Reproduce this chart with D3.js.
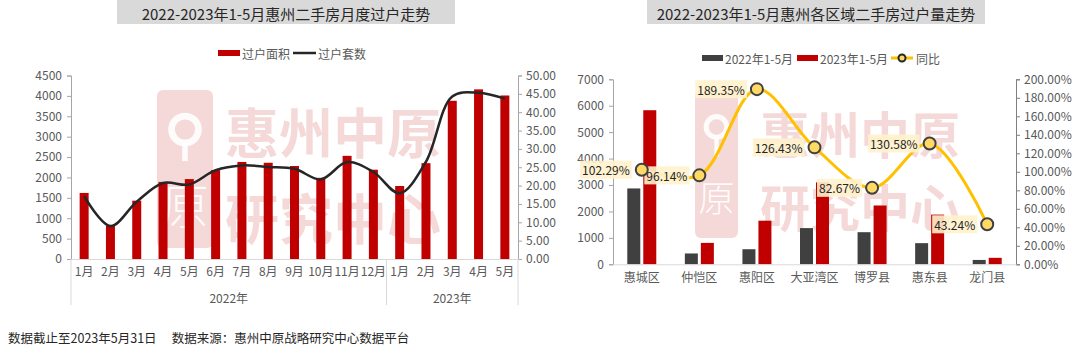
<!DOCTYPE html>
<html><head><meta charset="utf-8">
<script src="https://cdn.jsdelivr.net/npm/d3@7"></script>
<style>
body{margin:0;background:#fff;}
svg{display:block;font-family:"Noto Sans CJK SC","Noto Sans",sans-serif;}
</style>
</head><body>
<svg id="c" width="1080" height="353"></svg>
<script>
// ---------- data: left chart ----------
const leftTitle = "2022-2023年1-5月惠州二手房月度过户走势";
const months = ["1月","2月","3月","4月","5月","6月","7月","8月","9月","10月","11月","12月","1月","2月","3月","4月","5月"];
const yearLabels = ["2022年","2023年"];
const yearCounts = [12,5];
const transferArea = [1620,815,1430,1890,1960,2180,2380,2360,2280,1990,2530,2190,1790,2350,3880,4160,4010];
const transferCount = [17.1,9.0,15.6,20.7,20.3,24.2,25.5,25.1,24.6,21.7,26.4,23.7,17.9,26.5,44.3,45.3,43.7];
const leftTicks = [0,500,1000,1500,2000,2500,3000,3500,4000,4500];
const rightTicksL = [0,5,10,15,20,25,30,35,40,45,50];
const leftLegend = ["过户面积","过户套数"];

// ---------- data: right chart ----------
const rightTitle = "2022-2023年1-5月惠州各区域二手房过户量走势";
const districts = ["惠城区","仲恺区","惠阳区","大亚湾区","博罗县","惠东县","龙门县"];
const vol2022 = [2870,410,570,1370,1215,800,165];
const vol2023 = [5830,810,1650,3100,2225,1880,245];
const yoy = [102.29,96.14,189.35,126.43,82.67,130.58,43.24];
const rTicksLeft = [0,1000,2000,3000,4000,5000,6000,7000];
const rTicksRight = [0,20,40,60,80,100,120,140,160,180,200];
const rightLegend = ["2022年1-5月","2023年1-5月","同比"];

const footer = "数据截止至2023年5月31日\u3000 数据来源：惠州中原战略研究中心数据平台";

const RED = "#c00000", DARK = "#404040", YEL = "#ffc000", TXT = "#595959";
const svg = d3.select("#c");

function watermark(g, rx, ry, rw, rh, tx, ty1, ty2, fs) {
  const w = g.append("g").attr("opacity", 0.15);
  w.append("rect").attr("x", rx).attr("y", ry).attr("width", rw).attr("height", rh).attr("rx", 6).attr("fill", RED);
  // stylised white seal marks inside the logo block
  const cxm = rx + rw/2, r = rw*0.24, cy1 = ry + rh*0.25;
  g.append("circle").attr("cx", cxm).attr("cy", cy1).attr("r", r).attr("fill","none").attr("stroke","#fff").attr("stroke-width", rw*0.12).attr("opacity",0.9);
  g.append("line").attr("x1", cxm).attr("x2", cxm).attr("y1", cy1 + r).attr("y2", ry + rh*0.45).attr("stroke","#fff").attr("stroke-width", rw*0.1).attr("opacity",0.9);
  g.append("text").attr("x", cxm).attr("y", ry + rh*0.72).attr("text-anchor","middle").attr("dominant-baseline","central")
    .attr("font-size", rw*0.85).attr("font-weight",300).attr("fill","#fff").attr("opacity",0.9).text("原");
  w.append("text").attr("x", tx).attr("y", ty1).attr("dominant-baseline","central").attr("font-size", fs).attr("font-weight",700).attr("fill",RED).text("惠州中原");
  w.append("text").attr("x", tx).attr("y", ty2).attr("dominant-baseline","central").attr("font-size", fs).attr("font-weight",700).attr("fill",RED).text("研究中心");
}

function title(x0, x1, t) {
  svg.append("rect").attr("x", x0).attr("y", 0).attr("width", x1-x0).attr("height", 24).attr("fill", "#d9d9d9");
  svg.append("text").attr("x", (x0+x1)/2).attr("y", 13).attr("text-anchor","middle").attr("dominant-baseline","central")
    .attr("font-size", 15).attr("fill", "#262626").text(t);
}

function styleAxis(g, color) {
  g.select(".domain").attr("stroke", color);
  g.selectAll(".tick line").attr("stroke", color);
  g.selectAll(".tick text").attr("fill", TXT).attr("font-size", 12).attr("font-family", '"Noto Sans CJK SC","Noto Sans",sans-serif');
}

// ================= LEFT CHART =================
title(117, 455, leftTitle);
watermark(svg, 157, 90, 56, 158, 225, 130, 216, 54);

const xL = d3.scaleBand().domain(d3.range(months.length)).range([71, 518]).padding(0);
const yL = d3.scaleLinear().domain([0, 4500]).range([259, 75.5]);
const yL2 = d3.scaleLinear().domain([0, 50]).range([259, 75.5]);

svg.append("g").selectAll("rect").data(transferArea).join("rect")
  .attr("x", (d,i) => xL(i) + xL.bandwidth()/2 - 4.5)
  .attr("width", 9)
  .attr("y", d => yL(d)).attr("height", d => yL(0) - yL(d)).attr("fill", RED);

svg.append("path").datum(transferCount)
  .attr("d", d3.line().x((d,i) => xL(i) + xL.bandwidth()/2).y(d => yL2(d)).curve(d3.curveCatmullRom.alpha(0.5)))
  .attr("fill","none").attr("stroke","#262626").attr("stroke-width",2.5);

const axL = svg.append("g").attr("transform","translate(71,0)").call(d3.axisLeft(yL).tickValues(leftTicks).tickSize(4).tickPadding(5).tickFormat(d3.format("d")));
styleAxis(axL, "#a6a6a6");
const axL2 = svg.append("g").attr("transform","translate(518,0)").call(d3.axisRight(yL2).tickValues(rightTicksL).tickSize(4).tickPadding(4).tickFormat(d3.format(".2f")));
styleAxis(axL2, "#a6a6a6");

// category axis
const axB = svg.append("g").attr("transform","translate(0,259)").call(d3.axisBottom(xL).tickSize(0).tickPadding(8).tickFormat(i => months[i]));
styleAxis(axB, "#d9d9d9");
axB.selectAll(".tick text").attr("dy", "0.71em");
// year group dividers
let acc = 0;
const divs = [0];
yearCounts.forEach(n => { acc += n; divs.push(acc); });
divs.forEach(k => {
  const x = k < months.length ? xL(k) : xL.range()[1];
  svg.append("line").attr("x1", x).attr("x2", x).attr("y1", 259).attr("y2", 305).attr("stroke", "#d9d9d9");
});
yearLabels.forEach((t, j) => {
  const a = divs[j] < months.length ? xL(divs[j]) : 518;
  const b = divs[j+1] < months.length ? xL(divs[j+1]) : 518;
  svg.append("text").attr("x", (a+b)/2).attr("y", 297).attr("text-anchor","middle").attr("dominant-baseline","central")
    .attr("font-size", 12).attr("fill", TXT).text(t);
});

// legend left
svg.append("rect").attr("x", 218).attr("y", 50).attr("width", 22).attr("height", 6).attr("fill", RED);
svg.append("text").attr("x", 242).attr("y", 53).attr("dominant-baseline","central").attr("font-size", 12).attr("fill", TXT).text(leftLegend[0]);
svg.append("line").attr("x1", 293).attr("x2", 316).attr("y1", 53).attr("y2", 53).attr("stroke","#262626").attr("stroke-width",2.5);
svg.append("text").attr("x", 318).attr("y", 53).attr("dominant-baseline","central").attr("font-size", 12).attr("fill", TXT).text(leftLegend[1]);

// ================= RIGHT CHART =================
title(647, 985, rightTitle);
watermark(svg, 695, 90, 43, 148, 760, 132, 205, 50);

const xR = d3.scaleBand().domain(districts).range([613, 1016]).padding(0);
const yR = d3.scaleLinear().domain([0, 7000]).range([264.3, 79.3]);
const yR2 = d3.scaleLinear().domain([0, 200]).range([264.3, 79.3]);
const cx = d => xR(d) + xR.bandwidth()/2;

svg.append("g").selectAll("rect").data(vol2022).join("rect")
  .attr("x", (d,i) => cx(districts[i]) - 14.5).attr("width", 13)
  .attr("y", d => yR(d)).attr("height", d => yR(0) - yR(d)).attr("fill", DARK);
svg.append("g").selectAll("rect").data(vol2023).join("rect")
  .attr("x", (d,i) => cx(districts[i]) + 1.5).attr("width", 13)
  .attr("y", d => yR(d)).attr("height", d => yR(0) - yR(d)).attr("fill", RED);

const axR = svg.append("g").attr("transform","translate(613,0)").call(d3.axisLeft(yR).tickValues(rTicksLeft).tickSize(4).tickPadding(5).tickFormat(d3.format("d")));
styleAxis(axR, "#a6a6a6");
const axR2 = svg.append("g").attr("transform","translate(1016,0)").call(d3.axisRight(yR2).tickValues(rTicksRight).tickSize(4).tickPadding(4).tickFormat(d => d3.format(".2f")(d) + "%"));
styleAxis(axR2, "#7f7f7f");
const axRB = svg.append("g").attr("transform","translate(0,264.3)").call(d3.axisBottom(xR).tickSize(0).tickPadding(9));
styleAxis(axRB, "#d9d9d9");
axRB.selectAll(".tick text").attr("dy","0.71em");

svg.append("path").datum(yoy)
  .attr("d", d3.line().x((d,i) => cx(districts[i])).y(d => yR2(d)).curve(d3.curveCatmullRom.alpha(0.5)))
  .attr("fill","none").attr("stroke", YEL).attr("stroke-width", 3);

// labels
const lab = svg.append("g");
yoy.forEach((v, i) => {
  const px = cx(districts[i]), py = yR2(v);
  const g = lab.append("g");
  const t = g.append("text").attr("x", px - 12).attr("y", py).attr("text-anchor","end").attr("dominant-baseline","central")
    .attr("font-size", 12).attr("fill", "#262626").text(d3.format(".2f")(v) + "%");
  const bb = t.node().getBBox();
  g.insert("rect", "text").attr("x", bb.x - 2).attr("y", py - 9).attr("width", bb.width + 4).attr("height", 18).attr("fill", "#fff2cc").attr("opacity", 0.9);
});
svg.append("g").selectAll("circle").data(yoy).join("circle")
  .attr("cx", (d,i) => cx(districts[i])).attr("cy", d => yR2(d)).attr("r", 6)
  .attr("fill", "#ffd966").attr("stroke", "#404040").attr("stroke-width", 2);

// legend right
svg.append("rect").attr("x", 702).attr("y", 55).attr("width", 21).attr("height", 6).attr("fill", DARK);
svg.append("text").attr("x", 725).attr("y", 58).attr("dominant-baseline","central").attr("font-size", 12).attr("fill", TXT).text(rightLegend[0]);
svg.append("rect").attr("x", 797).attr("y", 55).attr("width", 21).attr("height", 6).attr("fill", RED);
svg.append("text").attr("x", 820).attr("y", 58).attr("dominant-baseline","central").attr("font-size", 12).attr("fill", TXT).text(rightLegend[1]);
svg.append("line").attr("x1", 891).attr("x2", 913).attr("y1", 58).attr("y2", 58).attr("stroke", YEL).attr("stroke-width", 3);
svg.append("circle").attr("cx", 902).attr("cy", 58).attr("r", 3.5).attr("fill", "#ffd966").attr("stroke", "#262626").attr("stroke-width", 2);
svg.append("text").attr("x", 916).attr("y", 58).attr("dominant-baseline","central").attr("font-size", 12).attr("fill", TXT).text(rightLegend[2]);

// footer
svg.append("text").attr("x", 8).attr("y", 337).attr("dominant-baseline","central").attr("font-size", 12.5).attr("fill", "#262626").text(footer);
</script>
</body></html>
